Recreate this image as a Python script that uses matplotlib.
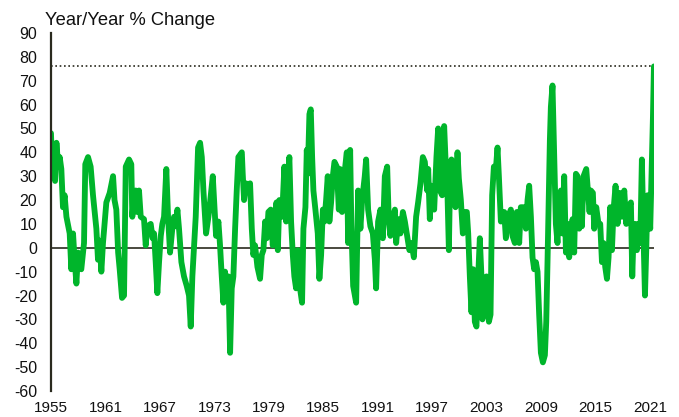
import matplotlib
matplotlib.use("Agg")
import matplotlib.pyplot as plt

plt.rcParams['font.family'] = ['Liberation Sans', 'DejaVu Sans']
plt.rcParams['axes.unicode_minus'] = False

# Valores (ano decimal, variação % a/a)
anos = [1955.0, 1955.15, 1955.3, 1955.45, 1955.6, 1955.8, 1955.96, 1956.14, 1956.32, 1956.5,
        1956.7, 1957.06, 1957.24, 1957.43, 1957.6, 1957.8, 1957.98, 1958.15, 1958.34, 1958.5,
        1958.64, 1958.78, 1959.08, 1959.37, 1959.63, 1960.0, 1960.18, 1960.35, 1960.55, 1960.73,
        1961.1, 1961.47, 1961.84, 1962.0, 1962.2, 1962.4, 1962.57, 1962.83, 1963.05, 1963.24,
        1963.6, 1963.85, 1963.96, 1964.15, 1964.33, 1964.5, 1964.7, 1964.89, 1965.25, 1965.44,
        1965.62, 1965.99, 1966.2, 1966.36, 1966.54, 1966.72, 1966.91, 1967.1, 1967.27, 1967.46,
        1967.71, 1967.9, 1968.12, 1968.37, 1968.56, 1968.75, 1968.93, 1969.11, 1969.37, 1969.66,
        1969.96, 1970.21, 1970.4, 1970.58, 1970.77, 1970.95, 1971.21, 1971.43, 1971.62, 1971.8,
        1971.98, 1972.09, 1972.35, 1972.53, 1972.83, 1972.97, 1973.19, 1973.45, 1973.63, 1973.82,
        1974.0, 1974.18, 1974.37, 1974.55, 1974.74, 1974.92, 1975.1, 1975.29, 1975.47, 1975.65,
        1976.03, 1976.13, 1976.28, 1976.5, 1976.75, 1976.94, 1977.13, 1977.3, 1977.49, 1977.75,
        1978.04, 1978.23, 1978.41, 1978.6, 1978.78, 1978.96, 1979.22, 1979.44, 1979.7, 1979.85,
        1980.0, 1980.17, 1980.47, 1980.72, 1980.91, 1981.1, 1981.27, 1981.46, 1981.65, 1981.82,
        1982.01, 1982.2, 1982.37, 1982.67, 1982.82, 1983.04, 1983.19, 1983.3, 1983.48, 1983.63,
        1983.78, 1983.92, 1984.14, 1984.4, 1984.58, 1984.77, 1984.96, 1985.13, 1985.32, 1985.5,
        1985.68, 1985.87, 1986.06, 1986.24, 1986.5, 1986.72, 1986.86, 1987.08, 1987.34, 1987.6,
        1987.75, 1987.97, 1988.1, 1988.3, 1988.63, 1988.85, 1989.1, 1989.29, 1989.58, 1989.73,
        1989.95, 1990.2, 1990.47, 1990.69, 1990.83, 1991.05, 1991.31, 1991.57, 1991.79, 1992.05,
        1992.23, 1992.41, 1992.6, 1992.9, 1993.04, 1993.26, 1993.51, 1993.78, 1994.0, 1994.25,
        1994.5, 1994.72, 1994.99, 1995.24, 1995.46, 1995.72, 1995.98, 1996.2, 1996.46, 1996.57,
        1996.75, 1996.93, 1997.23, 1997.48, 1997.67, 1997.86, 1998.11, 1998.33, 1998.47, 1998.7,
        1998.85, 1998.99, 1999.14, 1999.32, 1999.58, 1999.8, 1999.95, 2000.17, 2000.39, 2000.61,
        2000.83, 2000.98, 2001.16, 2001.34, 2001.53, 2001.71, 2001.89, 2002.08, 2002.26, 2002.44,
        2002.55, 2002.74, 2003.0, 2003.26, 2003.44, 2003.62, 2003.81, 2003.99, 2004.21, 2004.36,
        2004.58, 2004.83, 2004.95, 2005.13, 2005.39, 2005.68, 2005.86, 2006.12, 2006.34, 2006.6,
        2006.78, 2007.08, 2007.34, 2007.52, 2007.7, 2007.89, 2008.07, 2008.25, 2008.44, 2008.62,
        2008.8, 2008.99, 2009.21, 2009.43, 2009.58, 2009.72, 2009.87, 2009.98, 2010.09, 2010.27,
        2010.46, 2010.64, 2010.82, 2011.01, 2011.2, 2011.37, 2011.56, 2011.75, 2011.93, 2012.11,
        2012.3, 2012.48, 2012.66, 2012.85, 2013.03, 2013.21, 2013.35, 2013.51, 2013.69, 2013.99,
        2014.13, 2014.35, 2014.5, 2014.72, 2014.87, 2015.09, 2015.34, 2015.53, 2015.72, 2015.89,
        2016.08, 2016.27, 2016.45, 2016.63, 2016.82, 2017.0, 2017.22, 2017.44, 2017.66, 2017.92,
        2018.18, 2018.4, 2018.65, 2018.91, 2019.06, 2019.2, 2019.39, 2019.57, 2019.75, 2019.94,
        2020.12, 2020.3, 2020.46, 2020.6, 2020.74, 2020.89, 2021.04, 2021.18, 2021.34, 2021.45]

variacao = [48, 30, 38, 28, 44, 34, 38, 33, 17, 22,
            13, 6, -9, 6, -5, -15, -2, -8, -9, -3,
            2, 35, 38, 34, 22, 8, -5, 3, -10, 2,
            19, 23, 30, 20, 16, -2, -9, -21, -20, 34,
            37, 35, 13, 22, 24, 15, 24, 13, 12, 1,
            9, 10, 4, 6, -6, -19, -6, 5, 10, 13,
            33, 13, -2, 8, 13, 9, 16, 8, -6, -12,
            -16, -20, -33, -12, 1, 13, 42, 44, 38, 24,
            13, 6, 13, 19, 30, 20, 5, 11, 1, -12,
            -23, -10, -19, -12, -44, -17, -12, 8, 24, 38,
            40, 31, 20, 27, 26, 27, 8, -3, 1, -8,
            -13, -3, -1, 11, 4, 15, 16, 1, 12, 19,
            -1, 20, 13, 34, 11, 29, 38, 11, -3, -12,
            -17, -1, -15, -23, 8, 17, 41, 31, 56, 58,
            38, 24, 16, 6, -13, -3, 16, 11, 20, 30,
            11, 19, 30, 36, 34, 16, 33, 15, 31, 40,
            2, 41, 10, -16, -23, 24, 8, 20, 30, 37,
            16, 9, 6, -5, -17, 11, 16, 4, 30, 34,
            11, 5, 12, 16, 2, 12, 6, 15, 11, 5,
            -1, 2, -4, 13, 19, 27, 38, 36, 24, 33,
            12, 26, 16, 38, 50, 24, 22, 51, 38, 22,
            -1, 31, 37, 24, 17, 40, 29, 20, 6, 15,
            15, 6, -12, -27, -9, -31, -33, -12, 4, -12,
            -30, -13, -12, -31, -28, 22, 34, 31, 42, 30,
            11, 13, 15, 4, 13, 16, 5, 2, 15, 2,
            17, 17, 8, 20, 26, 13, -4, -9, -6, -10,
            -28, -44, -48, -45, -31, -6, 24, 45, 59, 68,
            38, 10, 2, 20, 24, 6, 30, -2, 10, -4,
            5, 12, -2, 31, 30, 8, 28, 9, 30, 33,
            26, 15, 24, 23, 8, 17, 10, 10, -6, 2,
            -8, -13, -4, 17, -1, 16, 26, 10, 23, 13,
            24, 10, 17, 19, -12, 5, 10, -1, 10, 2,
            37, 5, -20, -1, 22, 19, 8, 30, 55, 76]

anos_rotulos = [1955, 1961, 1967, 1973, 1979, 1985, 1991, 1997, 2003, 2009, 2015, 2021]
y_ticks = list(range(-60, 91, 10))

verde = '#00B52B'
escuro = '#2A2A1E'

fig = plt.figure(figsize=(6.79, 4.17), dpi=100)
ax = fig.add_axes([0.0751, 0.0624, 0.8880, 0.8585])

# Linha pontilhada no valor mais recente
ax.plot([anos[0], anos[-1]], [variacao[-1], variacao[-1]], linestyle=(0, (1, 1.6)),
        color=escuro, linewidth=1.2, zorder=1)
# Linha do zero
ax.plot([anos[0], anos[-1]], [0, 0], color=escuro, linewidth=1.2, zorder=1)
# Série
ax.plot(anos, variacao, color=verde, linewidth=4.2, solid_joinstyle='round',
        solid_capstyle='round', zorder=2)

ax.set_xlim(anos[0], anos[-1])
ax.set_ylim(-60, 90)
ax.set_xticks(anos_rotulos)
ax.set_yticks(y_ticks)
ax.tick_params(axis='both', length=0, labelsize=11, colors='#111111')
ax.tick_params(axis='y', pad=10, labelsize=11.5)
ax.tick_params(axis='x', pad=7)

for lado in ['top', 'right', 'bottom']:
    ax.spines[lado].set_visible(False)
ax.spines['left'].set_color(escuro)
ax.spines['left'].set_linewidth(1.6)

fig.text(0.066, 0.950, 'Year/Year % Change', fontsize=13.2, color='#111111',
         ha='left', va='center')

fig.savefig('out.png', dpi=100)
